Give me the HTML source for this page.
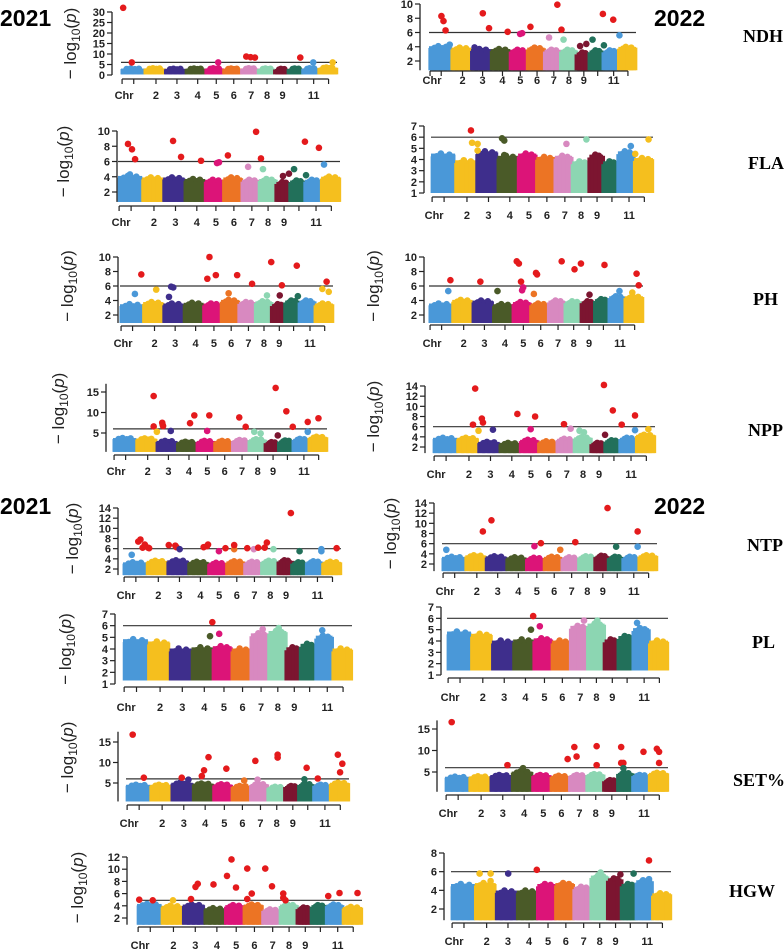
<!DOCTYPE html>
<html><head><meta charset="utf-8"><style>
html,body{margin:0;padding:0;background:#fff;}
svg{display:block;}
.tk{font-family:"Liberation Sans",sans-serif;font-weight:bold;font-size:11px;fill:#222;}
.yt{font-family:"Liberation Sans",sans-serif;font-size:17px;fill:#222;}
.yr{font-family:"Liberation Sans",sans-serif;font-weight:bold;font-size:23px;fill:#000;}
.tr{font-family:"Liberation Serif",serif;font-weight:bold;font-size:18px;fill:#000;}
</style></head><body>
<svg id="fig" width="784" height="951" viewBox="0 0 784 951" xmlns="http://www.w3.org/2000/svg">
<text class="yr" x="0" y="26">2021</text>
<text class="yr" x="654" y="26">2022</text>
<text class="yr" x="0" y="514">2021</text>
<text class="yr" x="654" y="514">2022</text>
<text class="tr" x="743" y="42">NDH</text>
<text class="tr" x="748" y="169">FLA</text>
<text class="tr" x="753" y="305">PH</text>
<text class="tr" x="748" y="436">NPP</text>
<text class="tr" x="747" y="551">NTP</text>
<text class="tr" x="752" y="648">PL</text>
<text class="tr" x="733" y="786">SET%</text>
<text class="tr" x="729" y="897">HGW</text>
</svg>
<script>
const CHR_W=[70,61,62,60,53,54,50,50,40,43,47,55];
const COLORS=["#4a98d8","#f5bf1e","#3e2e8c","#4a5a28","#dc1478","#ec7424","#d889c0","#8cd6b2","#7c1530","#22705a","#4a98d8","#f5bf1e"];
const RED="#e41a1c";
const AXIS_TICK_POS=[0.005,0.059,0.162,0.259,0.355,0.441,0.522,0.603,0.676,0.748,0.815,0.892,0.961];
const AXIS_TICK_LABELS=["Chr","","2","3","4","5","6","7","8","9","","11",""];

// ---- data arrays: chromosome peak heights and highlighted points [genomePos, -log10p, colorIdx(-1=red)]
const ndh21Heights=[4.5,4.6,4.4,4.5,4.6,4.5,4.6,4.5,4.3,4.5,4.6,5.0];
const ndh21Sig=[[0.01,32,-1],[0.05,6,-1],[0.45,6,4],[0.58,8.8,-1],[0.6,8.5,-1],[0.62,8.3,-1],[0.83,8.3,-1],[0.89,6,10],[0.98,6,11]];
const fla21Heights=[4.5,4.3,4.3,4.1,4.0,4.3,4.0,4.1,3.7,3.9,4.0,4.4];
const fla21Sig=[[0.045,8.3,-1],[0.063,7.6,-1],[0.077,6.3,-1],[0.054,4.3,0],[0.248,8.7,-1],[0.284,6.6,-1],[0.374,6.1,-1],[0.446,5.8,4],[0.455,5.9,4],[0.495,6.8,-1],[0.586,5.3,6],[0.622,9.9,-1],[0.644,6.4,-1],[0.653,5.0,7],[0.743,4.1,8],[0.77,4.4,8],[0.793,5.0,9],[0.842,8.6,-1],[0.847,4.2,9],[0.905,7.8,-1],[0.928,5.6,10]];
const ph21Heights=[3.9,4.2,4.0,4.1,4.0,4.5,4.2,4.3,3.9,4.4,4.4,4.0];
const ph21Sig=[[0.10,7.6,-1],[0.07,4.9,0],[0.17,5.5,1],[0.23,4.5,2],[0.24,5.9,2],[0.25,5.8,2],[0.42,10,-1],[0.41,7.0,-1],[0.45,7.5,-1],[0.51,5.0,5],[0.55,7.5,-1],[0.62,6.3,-1],[0.69,4.7,7],[0.71,9.3,-1],[0.75,4.7,8],[0.76,6.1,-1],[0.83,8.8,-1],[0.835,4.6,9],[0.95,5.6,11],[0.98,5.2,11],[0.97,6.6,-1]];
const npp21Heights=[4.5,4.4,3.8,3.6,3.8,3.8,4.0,4.2,3.5,3.9,4.3,4.8];
const npp21Sig=[[0.19,14,-1],[0.19,6.6,-1],[0.205,5.3,1],[0.23,7.5,-1],[0.232,7.0,-1],[0.234,6.7,-1],[0.27,5.5,2],[0.36,7.4,-1],[0.38,9.3,-1],[0.44,5.5,4],[0.45,9.3,-1],[0.59,8.8,-1],[0.62,6.5,-1],[0.66,5.3,7],[0.69,4.9,7],[0.76,16,-1],[0.77,4.4,8],[0.81,10.3,-1],[0.84,6.5,-1],[0.91,5.3,10],[0.91,7.7,-1],[0.96,8.6,-1]];
const ndh22Heights=[4.5,4.3,4.1,4.1,4.0,4.3,4.0,4.0,3.6,3.9,3.9,4.4];
const ndh22Sig=[[0.06,8.3,-1],[0.07,7.6,-1],[0.08,6.3,-1],[0.10,4.3,0],[0.22,3.9,2],[0.26,8.7,-1],[0.29,6.6,-1],[0.38,6.1,-1],[0.44,5.8,4],[0.45,5.9,4],[0.49,6.8,-1],[0.58,5.3,6],[0.62,9.9,-1],[0.64,6.4,-1],[0.65,5.0,7],[0.73,4.1,8],[0.76,4.4,8],[0.79,5.0,9],[0.84,8.6,-1],[0.845,4.2,9],[0.89,7.8,-1],[0.92,5.6,10]];
const fla22Heights=[4.8,4.2,5.0,4.6,4.8,4.5,4.6,4.1,4.7,4.1,5.0,4.4];
const fla22Sig=[[0.18,6.6,-1],[0.185,5.5,1],[0.21,5.4,1],[0.21,4.8,1],[0.32,5.9,3],[0.33,5.7,3],[0.33,4.4,3],[0.61,5.4,6],[0.70,5.8,7],[0.90,5.2,10],[0.92,4.5,11],[0.98,5.8,11]];
const ph22Heights=[4.0,4.5,4.4,3.9,4.2,4.0,4.4,4.3,4.3,4.6,5.0,5.0];
const ph22Sig=[[0.09,5.3,0],[0.10,6.8,-1],[0.24,6.6,-1],[0.32,5.3,3],[0.41,9.4,-1],[0.42,9.1,-1],[0.43,6.6,-1],[0.44,5.8,4],[0.435,5.4,4],[0.49,4.9,5],[0.50,7.8,-1],[0.505,7.6,-1],[0.62,9.4,-1],[0.68,8.3,-1],[0.71,9.1,-1],[0.75,4.8,8],[0.82,8.9,-1],[0.89,5.3,10],[0.95,5.1,11],[0.97,7.7,-1],[0.98,6.1,-1]];
const npp22Heights=[4.4,4.4,3.6,3.4,4.0,3.7,4.2,4.5,3.4,3.9,4.4,5.0];
const npp22Sig=[[0.18,6.4,-1],[0.19,13.5,-1],[0.205,5.2,1],[0.22,7.6,-1],[0.225,6.8,-1],[0.27,5.4,2],[0.38,8.5,-1],[0.44,5.5,4],[0.46,8.0,-1],[0.59,6.5,-1],[0.62,5.6,6],[0.66,5.2,7],[0.68,4.9,7],[0.77,14.2,-1],[0.775,4.4,8],[0.81,9.2,-1],[0.85,6.4,-1],[0.91,5.3,10],[0.91,8.2,-1],[0.97,5.5,11]];
const ntp21Heights=[3.9,4.2,4.3,4.0,3.8,4.1,4.0,4.2,4.3,3.9,4.1,4.0];
const ntp21Sig=[[0.04,4.8,0],[0.07,7.4,-1],[0.08,7.8,-1],[0.09,6.2,-1],[0.10,6.8,-1],[0.115,6.2,-1],[0.12,6.1,-1],[0.21,6.7,-1],[0.24,6.6,-1],[0.245,6.3,-1],[0.26,5.9,2],[0.37,6.3,-1],[0.385,6.5,-1],[0.39,6.8,-1],[0.44,5.5,4],[0.47,6.1,-1],[0.51,5.9,5],[0.51,6.7,-1],[0.57,6.1,-1],[0.60,5.9,6],[0.62,6.2,-1],[0.65,6.2,-1],[0.66,7.2,-1],[0.69,5.9,7],[0.77,13.0,-1],[0.81,5.5,9],[0.91,5.9,10],[0.91,5.5,10],[0.98,6.1,-1]];
const pl21Heights=[5.1,4.9,4.3,4.4,4.5,4.3,5.6,5.8,4.4,4.7,5.4,4.3];
const pl21Sig=[[0.39,6.3,-1],[0.42,5.3,4],[0.38,5.1,3],[0.61,5.7,6],[0.68,5.8,7],[0.87,5.6,10]];
const set21Heights=[5.3,5.3,5.8,5.6,5.4,5.0,5.5,4.8,5.0,5.5,5.3,5.8];
const set21Sig=[[0.03,16.8,-1],[0.08,6.3,-1],[0.25,6.3,-1],[0.28,5.8,2],[0.34,6.7,-1],[0.35,8.1,-1],[0.37,11.3,-1],[0.45,8.5,-1],[0.53,5.6,5],[0.58,10.4,-1],[0.59,5.8,6],[0.68,11.9,-1],[0.68,11.2,-1],[0.80,5.9,9],[0.81,8.7,-1],[0.86,6.1,-1],[0.95,11.9,-1],[0.97,9.7,-1],[0.96,7.6,-1]];
const hgw21Heights=[4.8,4.5,4.7,4.1,4.6,4.7,3.9,4.7,4.2,4.6,4.7,4.3];
const hgw21Sig=[[0.01,5.0,-1],[0.07,4.9,-1],[0.16,4.9,1],[0.24,5.1,-1],[0.26,7.1,-1],[0.27,7.6,-1],[0.34,7.5,-1],[0.40,8.9,-1],[0.42,11.6,-1],[0.44,7.0,-1],[0.49,10.1,-1],[0.49,5.1,-1],[0.51,6.0,-1],[0.57,10.1,-1],[0.60,7.2,-1],[0.65,6.0,-1],[0.65,5.3,-1],[0.66,4.9,-1],[0.85,5.6,-1],[0.90,6.1,-1],[0.98,6.1,-1]];
const ntp22Heights=[4.0,4.3,4.1,3.9,3.8,4.0,3.9,4.1,4.2,4.0,4.0,4.3];
const ntp22Sig=[[0.02,4.8,0],[0.19,8.4,-1],[0.23,10.6,-1],[0.43,5.5,4],[0.46,6.1,-1],[0.55,4.8,5],[0.62,6.3,-1],[0.77,13.0,-1],[0.81,5.4,9],[0.91,5.4,10],[0.91,8.4,-1]];
const pl22Heights=[5.1,4.9,4.3,4.4,4.5,4.3,5.6,5.8,4.4,4.7,5.4,4.3];
const pl22Sig=[[0.39,6.2,-1],[0.42,5.3,4],[0.38,5.0,3],[0.62,5.8,6],[0.68,5.8,7],[0.86,5.6,10]];
const set22Heights=[4.6,4.7,5.0,5.8,5.0,4.8,5.0,5.2,3.8,5.5,5.0,5.5];
const set22Sig=[[0.03,16.6,-1],[0.28,6.6,-1],[0.35,5.9,3],[0.55,8.0,-1],[0.58,10.8,-1],[0.59,8.6,-1],[0.68,11.0,-1],[0.68,6.6,-1],[0.79,10.8,-1],[0.79,7.1,-1],[0.80,7.1,-1],[0.80,5.9,9],[0.89,9.7,-1],[0.95,10.4,-1],[0.96,9.7,-1],[0.96,7.1,-1]];
const hgw22Heights=[5.0,5.1,4.3,4.3,5.0,5.1,4.7,5.9,5.6,5.0,5.4,4.0];
const hgw22Sig=[[0.13,5.8,1],[0.18,5.8,1],[0.18,5.0,1],[0.26,5.8,2],[0.39,6.2,-1],[0.68,5.9,7],[0.77,5.7,8],[0.83,5.8,9],[0.90,5.2,10],[0.90,7.2,-1]];

const panels=[
 {id:"ndh-2021",ax:112,bx0:121,bx1:337,vA:0,yA:75,vB:30,yB:12,floor:0.3,axisY:79,labY:99,ticks:[0,5,10,15,20,25,30],thr:6,title:true,tx:-42,h:ndh21Heights,s:ndh21Sig},
 {id:"fla-2021",ax:117,bx0:118,bx1:340,vA:2,yA:192,vB:10,yB:131,floor:0.7,axisY:206,labY:226,ticks:[2,4,6,8,10],thr:6,title:true,tx:-54,h:fla21Heights,s:fla21Sig},
 {id:"ph-2021",ax:118,bx0:120,bx1:333,vA:2,yA:315,vB:10,yB:257,floor:0.9,axisY:326,labY:347,ticks:[2,4,6,8,10],thr:6,title:true,tx:-51,h:ph21Heights,s:ph21Sig},
 {id:"npp-2021",ax:106,bx0:113,bx1:327,vA:5,yA:433,vB:15,yB:392,floor:0.4,axisY:455,labY:475,ticks:[5,10,15],thr:6,title:true,tx:-48,top:17,h:npp21Heights,s:npp21Sig},
 {id:"ndh-2022",ax:420,bx0:429,bx1:636,vA:2,yA:61,vB:10,yB:4,floor:0.7,axisY:71,labY:84,ticks:[2,4,6,8,10],thr:6,title:false,h:ndh22Heights,s:ndh22Sig},
 {id:"fla-2022",ax:424,bx0:431,bx1:653,vA:1,yA:193,vB:7,yB:126,floor:1.0,axisY:197,labY:219,ticks:[1,2,3,4,5,6,7],thr:6,title:false,h:fla22Heights,s:fla22Sig},
 {id:"ph-2022",ax:424,bx0:429,bx1:643,vA:2,yA:315,vB:10,yB:257,floor:0.9,axisY:325,labY:347,ticks:[2,4,6,8,10],thr:6,title:true,tx:-51,h:ph22Heights,s:ph22Sig},
 {id:"npp-2022",ax:425,bx0:433,bx1:655,vA:2,yA:447,vB:14,yB:386,floor:0.8,axisY:456,labY:478,ticks:[2,4,6,8,10,12,14],thr:6,title:true,tx:-52,h:npp22Heights,s:npp22Sig},
 {id:"ntp-2021",ax:118,bx0:123,bx1:341,vA:2,yA:569,vB:14,yB:508,floor:0.8,axisY:577,labY:599,ticks:[2,4,6,8,10,12,14],thr:6,title:true,tx:-46,h:ntp21Heights,s:ntp21Sig},
 {id:"pl-2021",ax:115,bx0:123,bx1:352,vA:1,yA:684,vB:7,yB:614,floor:1.3,axisY:687,labY:711,ticks:[1,2,3,4,5,6,7],thr:6,title:true,tx:-50,h:pl21Heights,s:pl21Sig},
 {id:"set-2021",ax:118,bx0:126,bx1:349,vA:5,yA:783,vB:15,yB:742,floor:0.5,axisY:805,labY:827,ticks:[5,10,15],thr:6,title:true,tx:-51,top:17.5,h:set21Heights,s:set21Sig},
 {id:"hgw-2021",ax:127,bx0:137,bx1:362,vA:2,yA:918,vB:12,yB:857,floor:0.9,axisY:927,labY:949,ticks:[2,4,6,8,10,12],thr:4.9,title:true,tx:-50,h:hgw21Heights,s:hgw21Sig},
 {id:"ntp-2022",ax:434,bx0:442,bx1:657,vA:2,yA:564,vB:14,yB:503,floor:0.6,axisY:573,labY:595,ticks:[2,4,6,8,10,12,14],thr:6,title:true,tx:-44,h:ntp22Heights,s:ntp22Sig},
 {id:"pl-2022",ax:441,bx0:447,bx1:668,vA:1,yA:675,vB:7,yB:607,floor:1.4,axisY:678,labY:701,ticks:[1,2,3,4,5,6,7],thr:6,title:false,h:pl22Heights,s:pl22Sig},
 {id:"set-2022",ax:437,bx0:445,bx1:668,vA:5,yA:772,vB:15,yB:729,floor:0.4,axisY:795,labY:817,ticks:[5,10,15],thr:6,title:false,top:17,h:set22Heights,s:set22Sig},
 {id:"hgw-2022",ax:444,bx0:451,bx1:671,vA:2,yA:909,vB:8,yB:853,floor:0.8,axisY:923,labY:945,ticks:[2,4,6,8],thr:6,title:false,h:hgw22Heights,s:hgw22Sig}
];

const NS="http://www.w3.org/2000/svg";
const svg=document.getElementById("fig");
function mk(tag,attrs,parent){const e=document.createElementNS(NS,tag);for(const k in attrs)e.setAttribute(k,attrs[k]);parent.appendChild(e);return e;}
const totalW=CHR_W.reduce((a,b)=>a+b,0);

panels.forEach(p=>{
  const g=mk("g",{},svg);
  
  
  const k=(p.yA-p.yB)/(p.vB-p.vA);
  const y=v=>p.yA-(v-p.vA)*k;
  const x=f=>p.bx0+f*(p.bx1-p.bx0);
  // chromosome blocks
  let cum=0;
  CHR_W.forEach((w,i)=>{
    const f0=cum/totalW, f1=(cum+w)/totalW; cum+=w;
    const x0=x(f0), x1=x(f1), top=y(p.h[i]), bot=y(p.floor);
    const cg=mk("g",{},g);
    
    
    mk("rect",{x:x0,y:top+3,width:x1-x0,height:Math.max(0,bot-top-3),fill:COLORS[i]},cg);
    [0.15,0.38,0.62,0.85].forEach((q,j)=>{
      const hv=p.h[i]-[0.25,0,0.3,0.1][j];
      mk("circle",{cx:x0+3+q*(x1-x0-6),cy:y(hv)+3,r:3.3,fill:COLORS[i]},cg);
      mk("rect",{x:x0+q*(x1-x0)-4,y:y(hv)+3,width:8,height:Math.max(0,bot-y(hv)-3),fill:COLORS[i]},cg);
    });
  });
  // threshold
  const th=mk("line",{x1:p.bx0,x2:p.bx1,y1:y(p.thr),y2:y(p.thr),stroke:"#333","stroke-width":1.2},g);
  
  
  // sig points
  p.s.forEach(pt=>{
    const c=mk("circle",{cx:x(pt[0]),cy:y(pt[1]),r:3.3,fill:pt[2]<0?RED:COLORS[pt[2]]},g);
    
    
  });
  // y axis
  const ay=mk("g",{},g);
  
  
  const tmin=p.ticks[0], tmax=p.top||p.ticks[p.ticks.length-1];
  mk("line",{x1:p.ax,x2:p.ax,y1:y(Math.min(tmin,p.floor)),y2:y(tmax),stroke:"#222","stroke-width":1.3},ay);
  p.ticks.forEach(t=>{
    mk("line",{x1:p.ax-5,x2:p.ax,y1:y(t),y2:y(t),stroke:"#222","stroke-width":1.2},ay);
    const tx=mk("text",{x:p.ax-7,y:y(t)+4,"text-anchor":"end",class:"tk"},ay);
    tx.textContent=t;
  });
  // x axis
  const axg=mk("g",{},g);
  
  
  const xa0=x(AXIS_TICK_POS[0]), xa1=x(AXIS_TICK_POS[AXIS_TICK_POS.length-1]);
  mk("line",{x1:xa0,x2:xa1,y1:p.axisY,y2:p.axisY,stroke:"#222","stroke-width":1.3},axg);
  AXIS_TICK_POS.forEach((f,i)=>{
    mk("line",{x1:x(f),x2:x(f),y1:p.axisY,y2:p.axisY+5,stroke:"#222","stroke-width":1.2},axg);
    if(AXIS_TICK_LABELS[i]){
      const t=mk("text",{x:x(f)+(i===0?2:0),y:p.labY,"text-anchor":"middle",class:"tk"},axg);
      t.textContent=AXIS_TICK_LABELS[i];
    }
  });
  // y title
  if(p.title){
    const cx=p.ax+p.tx, cy=(y(tmin)+y(tmax))/2;
    const t=mk("text",{x:cx,y:cy,"text-anchor":"middle",class:"yt",transform:"rotate(-90 "+cx+" "+cy+") translate(0 6)"},g);
    
    
    const a=mk("tspan",{},t);a.textContent="\u2212 log";
    const b=mk("tspan",{dy:4,"font-size":12},t);b.textContent="10";
    const c=mk("tspan",{dy:-4},t);c.textContent="(";
    const d=mk("tspan",{"font-style":"italic"},t);d.textContent="p";
    const e=mk("tspan",{},t);e.textContent=")";
  }
});
</script>
</body></html>
